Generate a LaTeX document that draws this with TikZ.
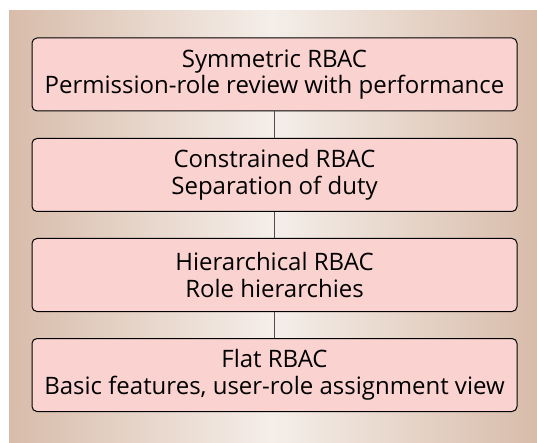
\documentclass[tikz,border=0pt]{standalone}
\usepackage{fontspec}
\setmainfont{Open Sans}
\definecolor{bgedge}{HTML}{D8BCAA}
\definecolor{bgmid}{HTML}{F5EEE9}
\definecolor{boxfill}{HTML}{FAD3D1}
\begin{document}
\begin{tikzpicture}[x=1pt,y=-1pt,
  level/.style={draw=black, line width=1pt, fill=boxfill, rounded corners=5pt,
    minimum width=485pt, minimum height=73pt, align=center,
    font=\fontsize{24}{26.5}\selectfont, inner sep=0pt},
  link/.style={draw=black!70, line width=1pt}]
\useasboundingbox (0,0) rectangle (537,443);
% background panel with a horizontal gradient
\shade[left color=bgedge, right color=bgmid, shading=axis]
  (9,11) rectangle (273,443);
\shade[left color=bgmid, right color=bgedge, shading=axis]
  (273,11) rectangle (537,443);
\node[level] (sym)  at (274.5,74.5)  {Symmetric RBAC\\Permission-role review with performance};
\node[level] (con)  at (274.5,175)   {Constrained RBAC\\Separation of duty};
\node[level] (hier) at (274.5,275)   {Hierarchical RBAC\\Role hierarchies};
\node[level] (flat) at (274.5,375)   {Flat RBAC\\Basic features, user-role assignment view};
\draw[link] (sym.south) -- (con.north);
\draw[link] (con.south) -- (hier.north);
\draw[link] (hier.south) -- (flat.north);
\end{tikzpicture}
\end{document}
